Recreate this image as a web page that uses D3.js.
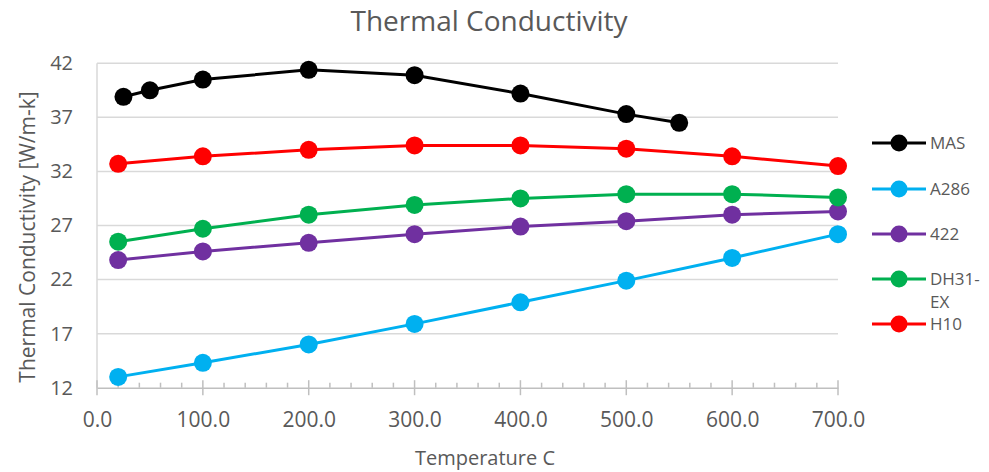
<!DOCTYPE html>
<html>
<head>
<meta charset="utf-8">
<script src="https://cdn.jsdelivr.net/npm/d3@7"></script>
<style>
  body { margin: 0; background: #fff; }
  svg { font-family: "Open Sans", sans-serif; }
</style>
</head>
<body>
<svg id="chart" width="989" height="472"></svg>
<script>
// data
var seriesNames = ["MAS", "A286", "422", "DH31-EX", "H10"];
var seriesColors = ["#000000", "#00B0F0", "#7030A0", "#00B050", "#FF0000"];

var masTemp = [25, 50, 100, 200, 300, 400, 500, 550];
var masK = [38.9, 39.5, 40.5, 41.4, 40.9, 39.2, 37.3, 36.5];

var temps = [20, 100, 200, 300, 400, 500, 600, 700];
var a286K = [13.0, 14.3, 16.0, 17.9, 19.9, 21.9, 24.0, 26.2];
var k422 = [23.8, 24.6, 25.4, 26.2, 26.9, 27.4, 28.0, 28.3];
var dh31K = [25.5, 26.7, 28.0, 28.9, 29.5, 29.9, 29.9, 29.6];
var h10K = [32.7, 33.4, 34.0, 34.4, 34.4, 34.1, 33.4, 32.5];

var xTicks = [0, 100, 200, 300, 400, 500, 600, 700];
var yTicks = [12, 17, 22, 27, 32, 37, 42];

var seriesX = [masTemp, temps, temps, temps, temps];
var seriesY = [masK, a286K, k422, dh31K, h10K];

var textColor = "#595959";
var svg = d3.select("#chart");

var x = d3.scaleLinear().domain([0, 700]).range([97, 838]);
var y = d3.scaleLinear().domain([12, 42]).range([387.7, 63.3]);

// gridlines
svg.append("g")
    .selectAll("line")
    .data(yTicks.slice(1))
    .enter().append("line")
    .attr("x1", x(0)).attr("x2", x(700))
    .attr("y1", function(d) { return y(d); })
    .attr("y2", function(d) { return y(d); })
    .attr("stroke", "#d9d9d9")
    .attr("stroke-width", 1.5);

// y axis line
svg.append("line")
    .attr("x1", x(0)).attr("x2", x(0))
    .attr("y1", y(42)).attr("y2", y(12))
    .attr("stroke", "#d9d9d9").attr("stroke-width", 1.5);

// y tick labels
var yAxis = d3.axisLeft(y).tickValues(yTicks).tickSize(0).tickPadding(24);
var gy = svg.append("g").attr("transform", "translate(" + x(0) + ",0)").call(yAxis);
gy.select(".domain").remove();
gy.selectAll("text")
    .attr("fill", textColor)
    .style("font-size", "20px")
    .style("font-family", "Open Sans");

// x axis: minor ticks every 20, major crossing ticks every 100
var minor = d3.range(0, 701, 20);
svg.append("g").selectAll("line")
    .data(minor)
    .enter().append("line")
    .attr("x1", function(d) { return x(d); })
    .attr("x2", function(d) { return x(d); })
    .attr("y1", function(d) { return d % 100 === 0 ? y(12) - 7.5 : y(12) - 5; })
    .attr("y2", function(d) { return d % 100 === 0 ? y(12) + 7.5 : y(12); })
    .attr("stroke", "#bfbfbf").attr("stroke-width", 1.5);

var xAxis = d3.axisBottom(x).tickValues(xTicks).tickSize(0).tickPadding(24)
    .tickFormat(d3.format(".1f"));
var gx = svg.append("g").attr("transform", "translate(0," + y(12) + ")").call(xAxis);
gx.select(".domain").attr("stroke", "#bfbfbf").attr("stroke-width", 1.5);
gx.selectAll("text")
    .attr("fill", textColor)
    .style("font-size", "21px")
    .style("font-family", "Open Sans");

// titles
svg.append("text")
    .attr("x", 489).attr("y", 31)
    .attr("text-anchor", "middle")
    .attr("fill", textColor)
    .style("font-size", "28px")
    .text("Thermal Conductivity");

svg.append("text")
    .attr("x", 485).attr("y", 465)
    .attr("text-anchor", "middle")
    .attr("fill", textColor)
    .style("font-size", "20px")
    .text("Temperature C");

svg.append("text")
    .attr("transform", "translate(35,237) rotate(-90)")
    .attr("text-anchor", "middle")
    .attr("fill", textColor)
    .style("font-size", "21px")
    .text("Thermal Conductivity [W/m-k]");

// series
var line = d3.line()
    .x(function(d) { return x(d[0]); })
    .y(function(d) { return y(d[1]); });

seriesNames.forEach(function(name, i) {
    var pts = d3.zip(seriesX[i], seriesY[i]);
    var g = svg.append("g").attr("class", "series");
    g.append("path")
        .datum(pts)
        .attr("d", line)
        .attr("fill", "none")
        .attr("stroke", seriesColors[i])
        .attr("stroke-width", 3);
    g.selectAll("circle")
        .data(pts)
        .enter().append("circle")
        .attr("cx", function(d) { return x(d[0]); })
        .attr("cy", function(d) { return y(d[1]); })
        .attr("r", 9)
        .attr("fill", seriesColors[i]);
});

// legend
var legendY = [143, 189, 234, 279, 324];
var legend = svg.append("g").selectAll("g")
    .data(seriesNames)
    .enter().append("g")
    .attr("transform", function(d, i) { return "translate(0," + legendY[i] + ")"; });
legend.append("line")
    .attr("x1", 872).attr("x2", 926)
    .attr("stroke", function(d, i) { return seriesColors[i]; })
    .attr("stroke-width", 3);
legend.append("circle")
    .attr("cx", 899).attr("r", 8.5)
    .attr("fill", function(d, i) { return seriesColors[i]; });
legend.append("text")
    .attr("x", 930).attr("y", 6)
    .attr("fill", textColor)
    .style("font-size", "17px")
    .each(function(d) {
        var t = d3.select(this);
        if (d === "DH31-EX") {
            t.append("tspan").attr("x", 930).text("DH31-");
            t.append("tspan").attr("x", 930).attr("dy", 22.5).text("EX");
        } else {
            t.text(d);
        }
    });
</script>
</body>
</html>
